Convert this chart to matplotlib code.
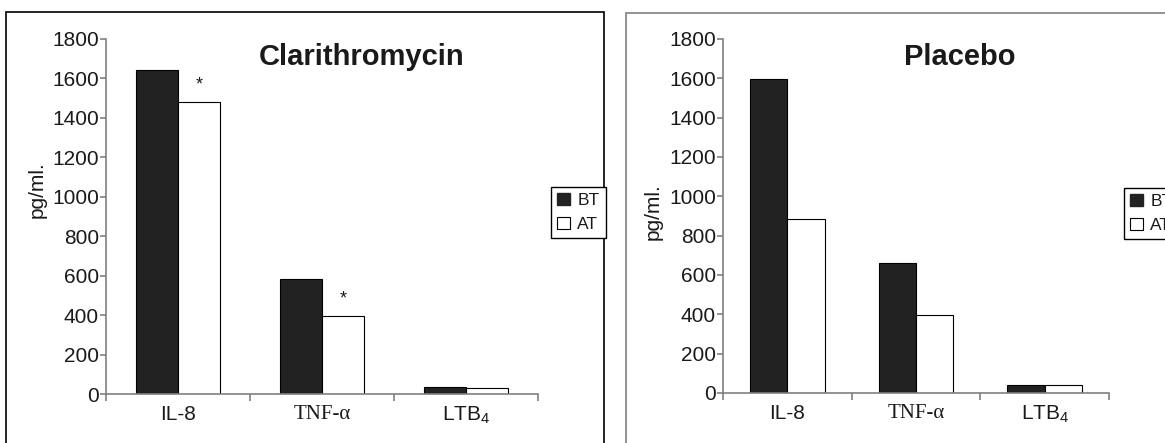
import matplotlib
matplotlib.use("Agg")
import matplotlib.pyplot as plt
from matplotlib.patches import Patch, Rectangle
import numpy as np

plt.rcParams["font.family"] = ["Liberation Sans", "DejaVu Sans"]
plt.rcParams["mathtext.fontset"] = "custom"
plt.rcParams["mathtext.rm"] = "Liberation Sans"
plt.rcParams["mathtext.it"] = "Liberation Sans"

# ---- data ---------------------------------------------------------------
categories = ["IL-8", "TNF-\u03b1", "LTB$_4$"]
series_names = ["BT", "AT"]
clari_bt = [1641, 583, 36]
clari_at = [1481, 398, 31]
clari_star = [True, True, False]      # significant change after treatment
placebo_bt = [1595, 659, 43]
placebo_at = [886, 398, 43]
placebo_star = [False, False, False]
yticks = [0, 200, 400, 600, 800, 1000, 1200, 1400, 1600, 1800]

W, H = 1165, 443
TXT = "#1a1a1a"
AXC = "#808080"
fig = plt.figure(figsize=(W / 100, H / 100), dpi=100)


def px(x0, y0, x1, y1):
    """pixel box (top-left origin) -> figure fraction [l, b, w, h]"""
    return [x0 / W, 1 - y1 / H, (x1 - x0) / W, (y1 - y0) / H]


def panel(box, bt, at, stars, title, title_xy, ylab_xy, leg_xy, frame_box, frame_col):
    # outer panel frame
    fx0, fy0, fx1 = frame_box
    fig.patches.append(Rectangle((fx0 / W, -0.2), (fx1 - fx0) / W, 1.2 - fy0 / H,
                                 transform=fig.transFigure, fill=False,
                                 edgecolor=frame_col, lw=1.2))
    ax = fig.add_axes(px(*box))
    x = np.arange(len(categories))
    w = 0.29
    ax.bar(x - w / 2, bt, w, color="#222222", edgecolor="black", lw=0.8)
    ax.bar(x + w / 2, at, w, color="white", edgecolor="black", lw=0.8)
    for xi, v, s in zip(x, at, stars):
        if s:
            ax.annotate("*", (xi + w / 2, v), xytext=(0, 6), textcoords="offset points",
                        ha="center", va="bottom", fontsize=13, color=TXT)

    ax.set_xlim(-0.5, 2.5)
    ax.set_ylim(0, 1800)
    ax.set_yticks(yticks)
    ax.set_xticks(x)
    ax.set_xticklabels(categories)
    ax.set_xticks(np.arange(-0.5, 3, 1), minor=True)
    ax.tick_params(axis="x", which="major", length=0, pad=8, labelsize=15, labelcolor=TXT)
    ax.tick_params(axis="x", which="minor", length=5, direction="out", color=AXC, width=1.2)
    ax.tick_params(axis="y", length=4, direction="out", color=AXC, width=1.2,
                   pad=1, labelsize=15, labelcolor=TXT)
    ax.get_xticklabels()[1].set_fontfamily(["Liberation Serif"])
    for sp in ("top", "right"):
        ax.spines[sp].set_visible(False)
    for sp in ("left", "bottom"):
        ax.spines[sp].set_color(AXC)
        ax.spines[sp].set_linewidth(1.2)

    fig.text(title_xy[0] / W, 1 - title_xy[1] / H, title, ha="center", va="center",
             fontsize=21, fontweight="bold", color=TXT)
    fig.text(ylab_xy[0] / W, 1 - ylab_xy[1] / H, "pg/ml.", rotation=90,
             ha="center", va="center", fontsize=15, color=TXT)

    handles = [Patch(facecolor="#222222", edgecolor="#222222", label=series_names[0]),
               Patch(facecolor="white", edgecolor="black", lw=0.8, label=series_names[1])]
    leg = fig.legend(handles=handles, loc="upper left",
                     bbox_to_anchor=(leg_xy[0] / W, 1 - leg_xy[1] / H),
                     bbox_transform=fig.transFigure, fontsize=12.5,
                     handlelength=0.72, handleheight=0.72, handletextpad=0.45,
                     labelspacing=0.5, borderpad=0.35, borderaxespad=0,
                     fancybox=False, framealpha=1)
    leg.get_frame().set_edgecolor("black")
    leg.get_frame().set_linewidth(1.0)
    for t in leg.get_texts():
        t.set_color(TXT)
    return ax


panel((106, 39, 538, 394), clari_bt, clari_at, clari_star, "Clarithromycin",
      (362, 57), (37, 190), (551, 187), (5.5, 12, 604), "black")
panel((723, 39, 1109, 393), placebo_bt, placebo_at, placebo_star, "Placebo",
      (960, 57), (653, 212), (1124, 188), (626, 13, 1300), AXC)

fig.savefig("out.png", dpi=100)
